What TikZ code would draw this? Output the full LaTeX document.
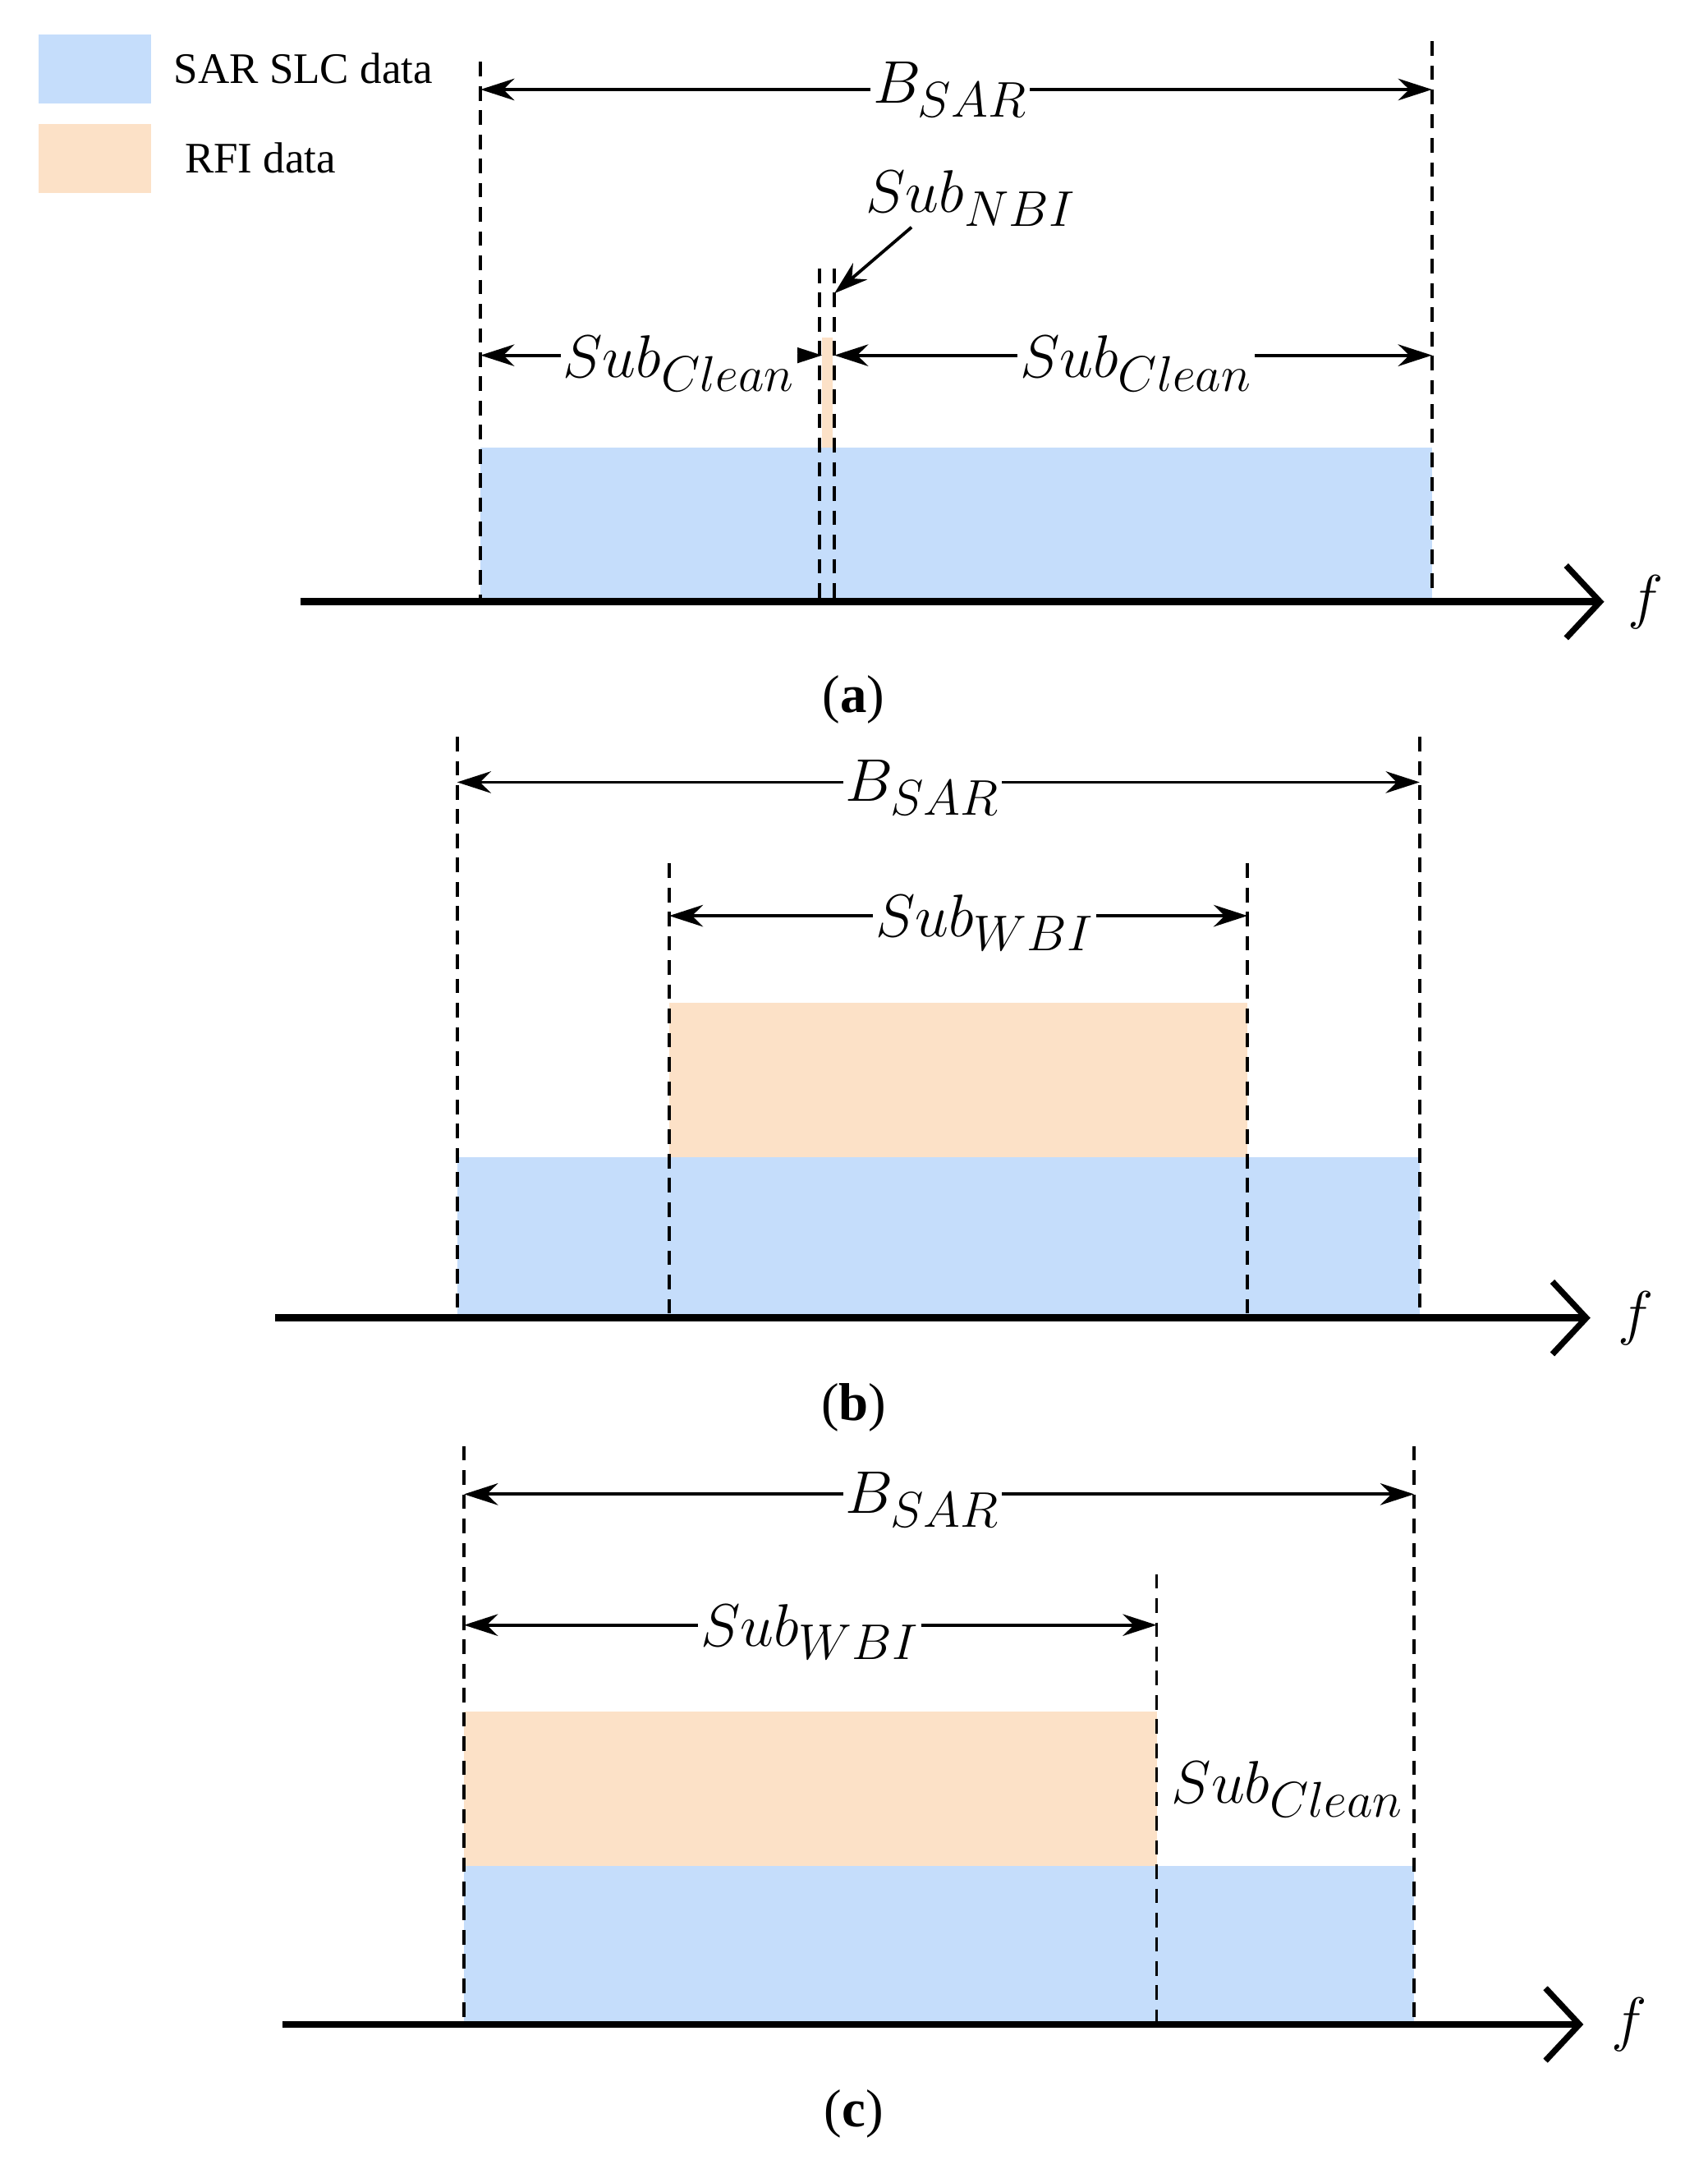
\documentclass[tikz,border=0pt]{standalone}
\usepackage{fontspec}
\setmainfont{Liberation Serif}
\usetikzlibrary{arrows.meta}
\definecolor{sar}{HTML}{C5DDFB}
\definecolor{rfi}{HTML}{FCE1C7}
\begin{document}
\begin{tikzpicture}[x=0.02cm,y=-0.02cm,
  dsh/.style={line width=1.3pt,dash pattern=on 6pt off 4pt},
  dim/.style={{Stealth[length=14pt,width=9pt]}-{Stealth[length=14pt,width=9pt]},line width=1.3pt},
  axis/.style={-{Straight Barb[length=14pt,width=30pt,line width=2.5pt]},line width=3pt},
  lab/.style={fill=white,inner sep=1pt,font=\fontsize{32}{36}\selectfont},
  captn/.style={font=\fontsize{22}{26}\selectfont},
  leg/.style={font=\fontsize{18}{22}\selectfont,anchor=west}]
\useasboundingbox (0,0) rectangle (1240,1575);
% legend
\fill[sar] (28,25) rectangle (110,75);
\fill[rfi] (28,90) rectangle (110,140);
\node[leg] (l1) at (120,50) {SAR SLC data};
\node[leg] (l2) at (128,115) {RFI data};
% (a)
\fill[sar] (349,325) rectangle (1040,437);
\fill[rfi] (597,245) rectangle (605,325);
\draw[dsh] (349,45) -- (349,437);
\draw[dsh] (1040,30) -- (1040,437);
\draw[dsh] (595,195) -- (595,437);
\draw[dsh] (606,195) -- (606,437);
\coordinate (a0) at (218,437); \coordinate (a1) at (1165,437);
\draw[axis] (a0) -- (a1);
\node[lab,fill=none] (fa) at (1195,437) {$f$};
\coordinate (ab0) at (349,65); \coordinate (ab1) at (1040,65);
\draw[dim] (ab0) -- (ab1);
\node[lab] (bsa) at (690,65) {$B_{SAR}$};
\coordinate (ac0) at (349,258); \coordinate (ac1) at (597,258);
\coordinate (ac2) at (606,258); \coordinate (ac3) at (1040,258);
\draw[dim] (ac0) -- (ac1);
\draw[dim] (ac2) -- (ac3);
\node[lab] (sca1) at (493,264) {$Sub_{Clean}$};
\node[lab] (sca2) at (825,264) {$Sub_{Clean}$};
\node[lab,fill=none] (snbi) at (705,144) {$Sub_{NBI}$};
\coordinate (nbis) at (662,165); \coordinate (nbit) at (606,213);
\draw[-{Stealth[length=14pt,width=9pt]},line width=1.3pt] (nbis) -- (nbit);
\node[captn] (ca) at (620,508) {(\textbf{a})};
% (b)
\fill[sar] (332,840) rectangle (1031,957);
\fill[rfi] (486,728) rectangle (906,840);
\draw[dsh] (332,535) -- (332,957);
\draw[dsh] (1031,535) -- (1031,957);
\draw[dsh] (486,627) -- (486,957);
\draw[dsh] (906,627) -- (906,957);
\coordinate (b0) at (200,957); \coordinate (b1) at (1155,957);
\draw[axis] (b0) -- (b1);
\node[lab,fill=none] (fb) at (1188,957) {$f$};
\coordinate (bb0) at (332,568); \coordinate (bb1) at (1031,568);
\draw[dim] (bb0) -- (bb1);
\node[lab] (bsb) at (670,572) {$B_{SAR}$};
\coordinate (bw0) at (486,665); \coordinate (bw1) at (906,665);
\draw[dim] (bw0) -- (bw1);
\node[lab] (swb) at (715,670) {$Sub_{WBI}$};
\node[captn] (cb) at (620,1022) {(\textbf{b})};
% (c)
\fill[sar] (337,1355) rectangle (1027,1470);
\fill[rfi] (337,1243) rectangle (840,1355);
\draw[dsh] (337,1050) -- (337,1470);
\draw[dsh] (1027,1050) -- (1027,1470);
\draw[dsh] (840,1143) -- (840,1470);
\coordinate (c0) at (205,1470); \coordinate (c1) at (1150,1470);
\draw[axis] (c0) -- (c1);
\node[lab,fill=none] (fc) at (1183,1470) {$f$};
\coordinate (cb0) at (337,1085); \coordinate (cb1) at (1027,1085);
\draw[dim] (cb0) -- (cb1);
\node[lab] (bsc) at (670,1089) {$B_{SAR}$};
\coordinate (cw0) at (337,1180); \coordinate (cw1) at (840,1180);
\draw[dim] (cw0) -- (cw1);
\node[lab] (swc) at (588,1185) {$Sub_{WBI}$};
\node[lab,fill=none] (scc) at (935,1299) {$Sub_{Clean}$};
\node[captn] (cc) at (620,1535) {(\textbf{c})};
\end{tikzpicture}
\end{document}
